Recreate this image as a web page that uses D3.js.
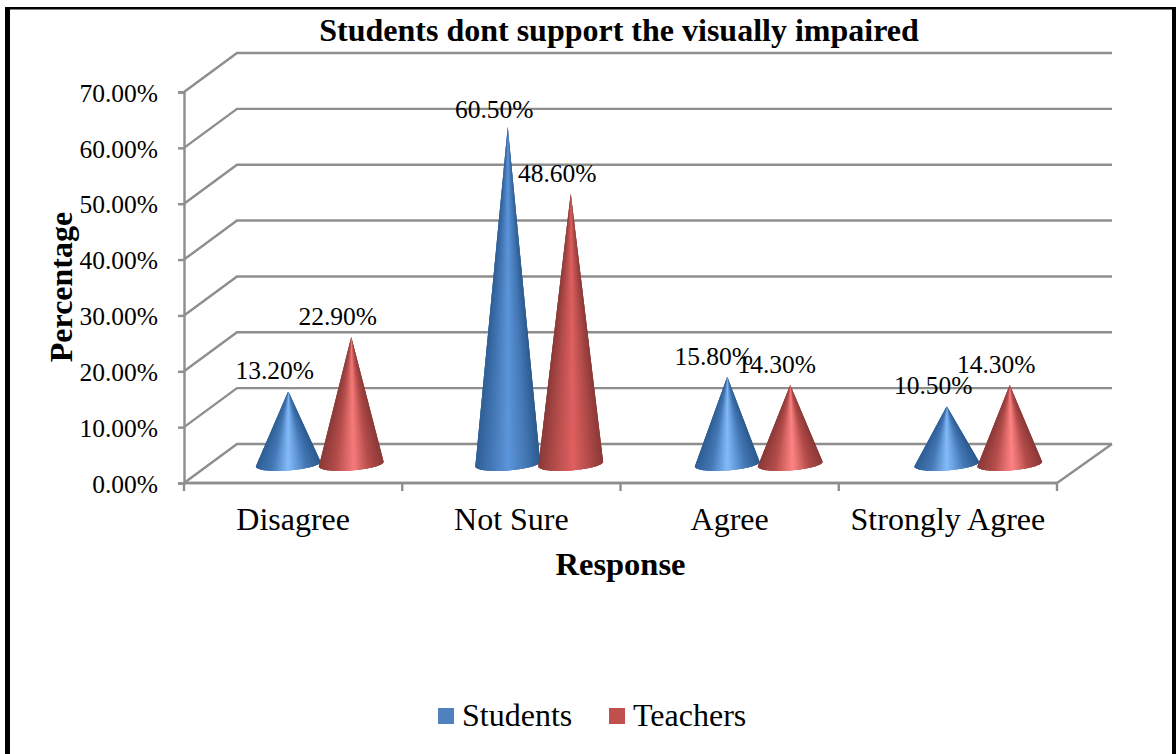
<!DOCTYPE html>
<html><head><meta charset="utf-8">
<script src="https://cdn.jsdelivr.net/npm/d3@7"></script>
<style>html,body{margin:0;padding:0;background:#fff;overflow:hidden}svg{display:block}text{font-family:"Liberation Serif",serif;fill:#000}</style>
</head><body>
<svg id="c" width="1176" height="754"></svg>
<script>
const categories = ["Disagree","Not Sure","Agree","Strongly Agree"];
const students = [13.2,60.5,15.8,10.5];
const teachers = [22.9,48.6,14.3,14.3];
const seriesNames = ["Students","Teachers"];
const yTicks = [0,10,20,30,40,50,60,70];
const chartTitle = "Students dont support the visually impaired";

const svg = d3.select("#c");
const W=1176,H=754;
const pL=184,pR=1057,pB=483,pT=92,dx=54,dy=39;
const y=d3.scaleLinear().domain([0,70]).range([pB,pT]);
const x=d3.scaleBand().domain(categories).range([pL,pR]);
const xCone=d3.scaleBand().domain(categories).range([210,1088]);
const grey="#8e8e8e";

// frame
svg.append("rect").attr("x",5).attr("y",7).attr("width",5).attr("height",H-7).attr("fill","#000");
svg.append("rect").attr("x",5).attr("y",7).attr("width",W-5).attr("height",2.5).attr("fill","#000");
svg.append("rect").attr("x",1172).attr("y",7).attr("width",4).attr("height",H-7).attr("fill","#000");

// walls and gridlines
const grid=svg.append("g").attr("fill","none").attr("stroke",grey).attr("stroke-width",2.4);
yTicks.forEach(t=>{
  grid.append("path").attr("d",`M${pL} ${y(t)}L${pL+dx-1} ${y(t)-dy}H${pR+dx+1}`);
});
grid.append("path").attr("d",`M${pL} ${pB}H${pR}L${pR+dx+1} ${pB-dy}`);

// axes
const ay=svg.append("g").attr("transform",`translate(${pL},0)`)
  .call(d3.axisLeft(y).tickValues(yTicks).tickSize(6).tickPadding(20).tickFormat(d=>d.toFixed(2)+"%"));
const ax=svg.append("g").attr("transform",`translate(0,${pB})`)
  .call(d3.axisBottom(x).tickSize(0).tickPadding(24));
[ay,ax].forEach(a=>{a.attr("font-family",null);a.selectAll("path.domain").attr("stroke",grey).attr("stroke-width",2.4);a.selectAll("line").attr("stroke",grey).attr("stroke-width",2.4);});
ax.select("path.domain").attr("d",`M${pL} 0H${pR}`);
ay.selectAll("text").attr("font-size",25.5).attr("y",1);
ax.selectAll("text").attr("font-size",32);
const tickG=svg.append("g").attr("stroke",grey).attr("stroke-width",2.4);
[...categories.map(c=>x(c)),pR].forEach(px=>tickG.append("line").attr("x1",px).attr("x2",px).attr("y1",pB).attr("y2",pB+8));

// cones: overlapping facets from the apex to the front rim, shaded by position across the base
const baseY=465,half=32.5,off=31.5,ry=6.5,tilt=Math.atan(5/65),N=48;
const center=c=>xCone(c)+xCone.bandwidth()/2;
const shades={
  S:{edgeL:"#2f5f96",mid:"#4478b6",edgeR:"#2c5a8e",hiTall:"#5c95da",hiShort:"#84bcfa",at:.5},
  T:{edgeL:"#8b3a38",mid:"#b34c4a",edgeR:"#8a3937",hiTall:"#df6060",hiShort:"#ff8484",at:.54}
};
function cone(cx,v,k){
  const s=shades[k];
  const hi=d3.interpolateRgb(s.hiShort,s.hiTall)(Math.min(1,Math.max(0,(v-15)/30)));
  const col=d3.scaleLinear().domain([0,.25,s.at,.78,1]).range([s.edgeL,s.mid,hi,s.mid,s.edgeR]).interpolate(d3.interpolateRgb);
  const apexY=y(v)-(pB-baseY);
  const cy=baseY-1;
  const pt=t=>[cx+half*Math.cos(t)*Math.cos(tilt)+ry*Math.sin(t)*Math.sin(tilt),
               cy-half*Math.cos(t)*Math.sin(tilt)+ry*Math.sin(t)*Math.cos(tilt)];
  const g=svg.append("g");
  d3.range(N).forEach(i=>{
    const a=pt(Math.PI*i/N),b=pt(Math.PI*(i+1)/N);
    const u=((a[0]+b[0])/2-(cx-half))/(2*half);
    const rim=d3.range(i,Math.min(N,i+3)+1).map(j=>pt(Math.PI*j/N));
    g.append("path").attr("d",`M${cx} ${apexY}`+rim.map(p=>`L${p[0]} ${p[1]}`).join("")+"Z")
      .attr("fill",col(u));
  });
}
function label(cx,v){
  const lift=v>50?9:12;
  svg.append("text").attr("x",cx-13.5).attr("y",y(v)-(pB-baseY)-lift)
    .attr("text-anchor","middle").attr("font-size",25.5).text(v.toFixed(2)+"%");
}
categories.forEach((c,i)=>{
  cone(center(c)-off,students[i],"S");
  cone(center(c)+off,teachers[i],"T");
});
categories.forEach((c,i)=>{
  label(center(c)-off,students[i]);
  label(center(c)+off,teachers[i]);
});

// titles
svg.append("text").attr("x",619).attr("y",41).attr("text-anchor","middle").attr("font-weight","bold").attr("font-size",32).text(chartTitle);
svg.append("text").attr("x",620.5).attr("y",575).attr("text-anchor","middle").attr("font-weight","bold").attr("font-size",32.5).text("Response");
svg.append("text").attr("transform","translate(72,287) rotate(-90)").attr("text-anchor","middle").attr("font-weight","bold").attr("font-size",32).text("Percentage");

// legend
const legendColors=["#4f81bd","#c0504d"],legendX=[438,609];
seriesNames.forEach((n,i)=>{
  svg.append("rect").attr("x",legendX[i]).attr("y",708).attr("width",16).attr("height",16).attr("fill",legendColors[i]);
  svg.append("text").attr("x",legendX[i]+24).attr("y",726).attr("font-size",32).text(n);
});
</script>
</body></html>
